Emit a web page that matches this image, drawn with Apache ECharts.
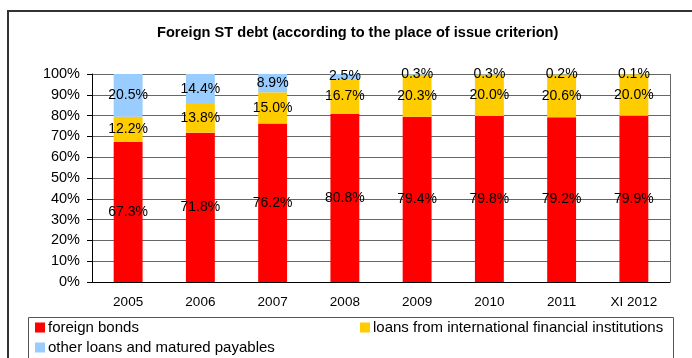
<!DOCTYPE html>
<html><head><meta charset="utf-8">
<script src="https://cdn.jsdelivr.net/npm/echarts@6/dist/echarts.min.js"></script>
<style>html,body{margin:0;padding:0;background:#fff}#c{width:692px;height:358px}</style>
</head><body><div id="c"></div>
<script>
const categories = ['2005','2006','2007','2008','2009','2010','2011','XI 2012'];
const foreignBonds = [67.3, 71.8, 76.2, 80.8, 79.4, 79.8, 79.2, 79.9];
const ifiLoans = [12.2, 13.8, 15.0, 16.7, 20.3, 20.0, 20.6, 20.0];
const otherLoans = [20.5, 14.4, 8.9, 2.5, 0.3, 0.3, 0.2, 0.1];
const yTicks = [0,10,20,30,40,50,60,70,80,90,100];
const names = ['foreign bonds','loans from international financial institutions','other loans and matured payables'];
const colors = ['#FF0000','#FFCC00','#99CCFF'];
const font = 'Liberation Sans, Arial, sans-serif';

const chart = echarts.init(document.getElementById('c'), null, {renderer:'canvas'});
function ser(name, data, color){
  return {name, type:'bar', stack:'t', data, barWidth:'40%', itemStyle:{color},
    label:{show:true, position:'inside', formatter:p=>p.value.toFixed(1)+'%', color:'#000', fontSize:14, fontFamily:font}};
}
const legendBase = {icon:'rect', itemWidth:10, itemHeight:10, itemGap:6, padding:0,
  textStyle:{fontSize:15, fontFamily:font, color:'#000', padding:[0,0,0,-2]}};
chart.setOption({
  animation:false,
  title:{text:'Foreign ST debt (according to the place of issue criterion)', left:152, top:20,
    textStyle:{fontSize:14.6, fontWeight:'bold', fontFamily:font, color:'#000'}},
  grid:{left:92, right:22, top:74, bottom:76},
  legend:[
    Object.assign({}, legendBase, {data:[names[0]], left:35, top:320}),
    Object.assign({}, legendBase, {data:[names[1]], left:360, top:320}),
    Object.assign({}, legendBase, {data:[names[2]], left:35, top:340})
  ],
  xAxis:{type:'category', data:categories,
    axisLine:{lineStyle:{color:'#000'}}, axisTick:{length:6, lineStyle:{color:'#000'}},
    axisLabel:{fontSize:13.5, fontFamily:font, color:'#000', margin:13}},
  yAxis:{type:'value', min:0, max:100, interval:10,
    axisLine:{show:true, lineStyle:{color:'#000'}}, axisTick:{show:true, length:5, lineStyle:{color:'#000'}},
    splitLine:{lineStyle:{color:'#666'}},
    axisLabel:{fontSize:14.5, fontFamily:font, color:'#000', margin:12, formatter:v=>yTicks.includes(v)?v+'%':''}},
  graphic:[
    {type:'rect', shape:{x:8, y:11, width:720, height:400}, style:{fill:'none', stroke:'#333', lineWidth:2}, z:-1},
    {type:'rect', shape:{x:28.5, y:317.5, width:645, height:60}, style:{fill:'none', stroke:'#555', lineWidth:1}},
    {type:'line', shape:{x1:670.5, y1:74, x2:670.5, y2:282}, style:{stroke:'#666', lineWidth:1}}
  ],
  series:[ser(names[0], foreignBonds, colors[0]), ser(names[1], ifiLoans, colors[1]), ser(names[2], otherLoans, colors[2])]
});
</script></body></html>
